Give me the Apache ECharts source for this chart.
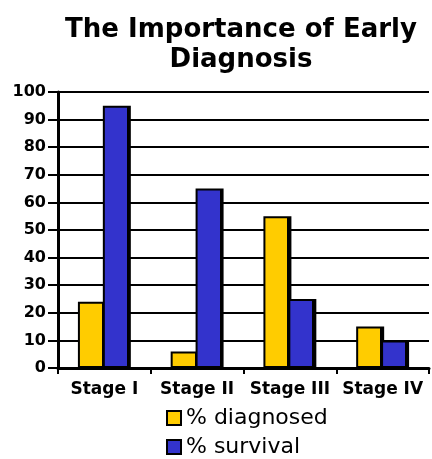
<!DOCTYPE html>
<html>
<head>
<meta charset="utf-8">
<script src="https://cdn.jsdelivr.net/npm/echarts@6/dist/echarts.min.js"></script>
<style>html,body{margin:0;padding:0;background:#fff;}#c{width:432px;height:459px;}</style>
</head>
<body>
<div id="c"></div>
<script>
const titleText = "The Importance of Early\nDiagnosis";
const categories = ["Stage I", "Stage II", "Stage III", "Stage IV"];
const seriesNames = ["% diagnosed", "% survival"];
const seriesColors = ["#FFCC00", "#3333CC"];
const diagnosed = [24, 6, 55, 15];
const survival = [95, 65, 25, 10];
const yTicks = [0, 10, 20, 30, 40, 50, 60, 70, 80, 90, 100];

const chart = echarts.init(document.getElementById('c'), null, {renderer: 'canvas'});
const shade = (c) => new echarts.graphic.LinearGradient(0, 0, 1, 0, [
  {offset: 0, color: c}, {offset: 0.86, color: c},
  {offset: 0.86, color: '#000'}, {offset: 1, color: '#000'}
]);
const barStyle = (c) => ({color: shade(c), borderColor: '#000', borderWidth: 2});
chart.setOption({
  animation: false,
  backgroundColor: '#fff',
  title: {
    text: titleText,
    left: 236,
    top: 10,
    textAlign: 'center',
    textStyle: {fontFamily: 'DejaVu Sans', fontWeight: 'bold', fontSize: 26, lineHeight: 30, color: '#000'}
  },
  legend: {
    orient: 'vertical',
    left: 166,
    top: 407,
    padding: 0,
    height: 52,
    itemWidth: 14,
    itemHeight: 14,
    itemGap: 7,
    icon: 'rect',
    data: seriesNames.map((n, i) => ({name: n, itemStyle: {color: seriesColors[i], borderColor: '#000', borderWidth: 2}})),
    textStyle: {fontFamily: 'DejaVu Sans', fontSize: 22, lineHeight: 22, color: '#000'}
  },
  grid: {left: 58, right: 3, top: 92, bottom: 91, containLabel: false},
  xAxis: {
    type: 'category',
    data: categories,
    axisLine: {lineStyle: {color: '#000', width: 3}},
    axisTick: {show: true, length: 6, lineStyle: {color: '#000', width: 2}},
    axisLabel: {fontFamily: 'DejaVu Sans', fontWeight: 'bold', fontSize: 17, color: '#000', margin: 13, interval: 0}
  },
  yAxis: {
    type: 'value',
    min: yTicks[0],
    max: yTicks[yTicks.length - 1],
    interval: 10,
    axisLine: {show: true, lineStyle: {color: '#000', width: 3}},
    axisTick: {show: true, length: 10, lineStyle: {color: '#000', width: 2}},
    axisLabel: {fontFamily: 'DejaVu Sans', fontWeight: 'bold', fontSize: 16, color: '#000', margin: 12},
    splitLine: {show: true, lineStyle: {color: '#000', width: 2}}
  },
  series: [
    {name: seriesNames[0], type: 'bar', data: diagnosed, barWidth: 28, barGap: '-11%', itemStyle: barStyle(seriesColors[0])},
    {name: seriesNames[1], type: 'bar', data: survival, barWidth: 28, barGap: '-11%', itemStyle: barStyle(seriesColors[1])}
  ]
});
</script>
</body>
</html>
